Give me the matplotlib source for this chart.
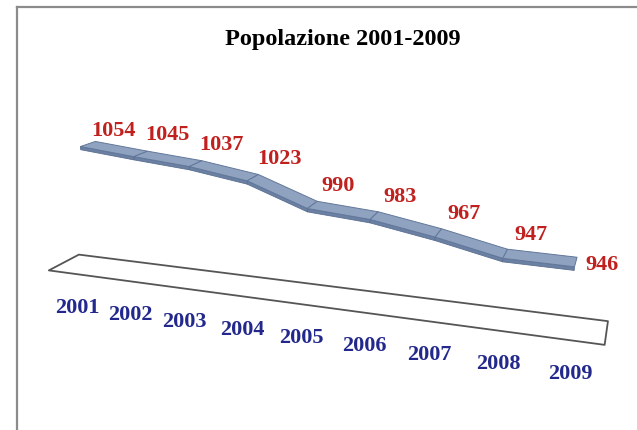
import matplotlib
matplotlib.use("Agg")
import matplotlib.pyplot as plt
from matplotlib.lines import Line2D
from mpl_toolkits.mplot3d import proj3d
from mpl_toolkits.mplot3d.art3d import Poly3DCollection

# dati
anni = ["2001", "2002", "2003", "2004", "2005", "2006", "2007", "2008", "2009"]
popolazione = [1054, 1045, 1037, 1023, 990, 983, 967, 947, 946]

Z_MIN, Z_MAX = 860, 1100
SERIF = "Liberation Serif"


def main():
    fig = plt.figure(figsize=(6.37, 4.30), dpi=100)
    ax = fig.add_axes([0.136, -0.014, 0.675, 1.0], projection="3d")
    ax.set_proj_type("persp", focal_length=0.4)
    ax.view_init(elev=16, azim=-70)
    n = len(popolazione)
    ax.set_xlim(-0.5, n - 0.5)
    ax.set_ylim(0, 1)
    ax.set_zlim(Z_MIN, Z_MAX)
    ax.set_box_aspect((10, 1, 2.85), zoom=1.38)
    ax.set_axis_off()
    ax.patch.set_alpha(0)

    # pavimento
    floor = [[(-0.5, 0, Z_MIN), (n - 0.5, 0, Z_MIN), (n - 0.5, 1, Z_MIN), (-0.5, 1, Z_MIN)]]
    pav = Poly3DCollection(floor, facecolor="white", edgecolor="#555555", linewidth=1.3)
    pav.set_clip_on(False)
    ax.add_collection3d(pav)

    # nastro 3D della linea
    y0, y1, t = 0.5, 1.0, 5
    tops, fronts = [], []
    for i in range(n - 1):
        a, b = popolazione[i], popolazione[i + 1]
        tops.append([(i, y0, a), (i + 1, y0, b), (i + 1, y1, b), (i, y1, a)])
        fronts.append([(i, y0, a), (i + 1, y0, b), (i + 1, y0, b - t), (i, y0, a - t)])
    for verts, fc, ec, lw in [(fronts, "#6b81a3", "#5a6e90", 0.6),
                              (tops, "#8fa2bf", "#62779a", 0.7)]:
        pc = Poly3DCollection(verts, facecolor=fc, edgecolor=ec, linewidth=lw)
        pc.set_clip_on(False)
        ax.add_collection3d(pc)

    # proiezione dei punti 3D per le etichette
    fig.canvas.draw()
    M = ax.get_proj()

    def punto(x, y, z):
        px, py, _ = proj3d.proj_transform(x, y, z, M)
        return px, py

    # etichette dei valori
    for i, v in enumerate(popolazione):
        if i == 0:
            dx, dy = (17, 9)
        elif i == n - 1:
            dx, dy = (19, -3)
        else:
            dx, dy = (18, 13)
        ax.annotate(str(v), punto(i, 0.8, v), xytext=(dx, dy),
                    textcoords="offset points", ha="center", va="center",
                    color="#c0201e", fontsize=16, fontweight="bold",
                    family=SERIF, annotation_clip=False)

    # etichette degli anni
    for i, a in enumerate(anni):
        ax.annotate(a, punto(i, 0, Z_MIN), xytext=(3, -25),
                    textcoords="offset points", ha="center", va="center",
                    color="#23298c", fontsize=16, fontweight="bold",
                    family=SERIF, annotation_clip=False)

    fig.text(343 / 637, 1 - 40 / 430, "Popolazione 2001-2009", ha="center",
             va="center", fontsize=17.5, fontweight="bold", family=SERIF)

    # bordo del grafico
    fig.add_artist(Line2D([17 / 637, 17 / 637], [0, 1 - 7 / 430],
                          color="#8c8c8c", lw=1.6, transform=fig.transFigure))
    fig.add_artist(Line2D([17 / 637, 1], [1 - 7 / 430, 1 - 7 / 430],
                          color="#8c8c8c", lw=1.6, transform=fig.transFigure))

    fig.savefig("out.png", dpi=100)


if __name__ == "__main__":
    main()
